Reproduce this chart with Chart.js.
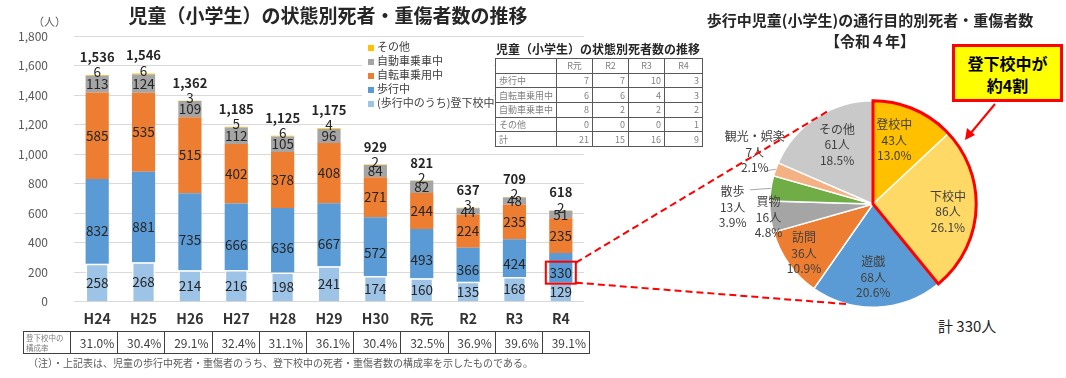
<!DOCTYPE html>
<html lang="ja">
<head>
<meta charset="UTF-8">
<meta name="viewport" content="width=device-width, initial-scale=1.0">
<title>児童（小学生）の状態別死者・重傷者数の推移</title>
<script src="https://cdn.jsdelivr.net/npm/chart.js"></script>
<style>
  body { margin: 0; background: #fff; font-family: 'Noto Sans CJK JP', sans-serif; color: #404040; }
  #page { position: relative; width: 1066px; height: 378px; overflow: hidden; }
  #page canvas, #page .abs { position: absolute; }
  #barChart { left: 0; top: 0; }
  #pieChart { left: 713px; top: 94px; }
  #overlay { left: 0; top: 0; pointer-events: none; z-index: 5; }
  .title { font-weight: bold; color: #262626; white-space: nowrap; }
  .num { font-family: 'Liberation Sans Narrow', 'Noto Sans CJK JP', sans-serif; }
  #mainTitle { left: 0; width: 656px; top: 2px; text-align: center; font-size: 19px; line-height: 26px; }
  #unit { left: 33px; top: 13px; font-size: 11px; color: #595959; }
  #legend { left: 362px; top: 39px; width: 132px; height: 72px; background: #fff; font-size: 11px; color: #404040; }
  #legend div { height: 14px; line-height: 14px; white-space: nowrap; }
  #legend span { display: inline-block; width: 6px; height: 6px; margin: 0 3px 1px 6px; vertical-align: middle; }
  #deathTitle { left: 493px; top: 40px; width: 210px; text-align: center; font-size: 12px; line-height: 18px; }
  #deathTable { left: 495px; top: 58px; border-collapse: collapse; background: #fff; font-size: 9px; color: #7f7f7f; table-layout: fixed; }
  #deathTable td { border: 1px solid #595959; padding: 0 3px; text-align: right; line-height: 1; overflow: hidden; white-space: nowrap; }
  #deathTable tr { height: 14.7px; }
  #deathTable tr:first-child td { text-align: center; }
  #deathTable td:first-child { text-align: left; }
  #rateTable { left: 23px; top: 331px; border-collapse: collapse; table-layout: fixed; }
  #rateTable td { border: 1.5px solid #404040; height: 21px; padding: 0 3px; text-align: right; font-size: 12px; color: #404040; }
  #rateTable td:first-child { text-align: left; font-size: 7.5px; line-height: 10px; color: #7f7f7f; padding: 0 2px; }
  #note { left: 28px; top: 355px; font-size: 10px; color: #595959; white-space: nowrap; }
  #pieTitle { left: 700px; width: 340px; top: 9px; text-align: center; font-size: 15px; line-height: 21px; }
  #callout { left: 952px; top: 44px; width: 111px; height: 58px; box-sizing: border-box; border: 3px solid #f00;
             background: #ff0; color: #000; font-weight: bold; font-size: 16px; line-height: 22px; padding-top: 5px; text-align: center; }
  #pieTotal { left: 938px; top: 315px; font-size: 15px; color: #262626; }
</style>
</head>
<body>
<div id="page">
  <canvas id="barChart" width="600" height="335"></canvas>
  <canvas id="pieChart" width="320" height="220"></canvas>
  <div id="mainTitle" class="abs title">児童（小学生）の状態別死者・重傷者数の推移</div>
  <div id="unit" class="abs">（人）</div>
  <div id="legend" class="abs"></div>
  <div id="deathTitle" class="abs title">児童（小学生）の状態別死者数の推移</div>
  <table id="deathTable" class="abs num"></table>
  <table id="rateTable" class="abs num"></table>
  <div id="note" class="abs">（注）・上記表は、児童の歩行中死者・重傷者のうち、登下校中の死者・重傷者数の構成率を示したものである。</div>
  <div id="pieTitle" class="abs title">歩行中児童(小学生)の通行目的別死者・重傷者数<br>【令和４年】</div>
  <div id="callout" class="abs">登下校中が<br>約4割</div>
  <div id="pieTotal" class="abs num"></div>
  <canvas id="overlay" width="1066" height="378"></canvas>
</div>

<script>
// 棒グラフのデータ
const years = ['H24', 'H25', 'H26', 'H27', 'H28', 'H29', 'H30', 'R元', 'R2', 'R3', 'R4'];
const walking = [832, 881, 735, 666, 636, 667, 572, 493, 366, 424, 330];
const schoolTrip = [258, 268, 214, 216, 198, 241, 174, 160, 135, 168, 129];
const bicycle = [585, 535, 515, 402, 378, 408, 271, 244, 224, 235, 235];
const carRide = [113, 124, 109, 112, 105, 96, 84, 82, 44, 48, 51];
const others = [6, 6, 3, 5, 6, 4, 2, 2, 3, 2, 2];
const totals = [1536, 1546, 1362, 1185, 1125, 1175, 929, 821, 637, 709, 618];
const shareRates = ['31.0%', '30.4%', '29.1%', '32.4%', '31.1%', '36.1%', '30.4%', '32.5%', '36.9%', '39.6%', '39.1%'];

// 死者数の表
const deathYears = ['R元', 'R2', 'R3', 'R4'];
const deathRowNames = ['歩行中', '自転車乗用中', '自動車乗車中', 'その他', '計'];
const deathWalk = [7, 7, 10, 3];
const deathBike = [6, 6, 4, 3];
const deathCar = [8, 2, 2, 2];
const deathOther = [0, 0, 0, 1];
const deathTotal = [21, 15, 16, 9];

// 円グラフ（令和4年）
const purposes = ['登校中', '下校中', '遊戯', '訪問', '買物', '散歩', '観光・娯楽', 'その他'];
const purposeCounts = [43, 86, 68, 36, 16, 13, 7, 61];

const numFont = "'Liberation Sans Narrow', 'Noto Sans CJK JP', sans-serif";
Chart.defaults.font.family = numFont;
Chart.defaults.color = '#595959';

const walkRest = walking.map((v, i) => v - schoolTrip[i]);

// 歩行中ラベルの位置
function walkLabelY(chart, bar) {
    const zero = chart.scales.y.getPixelForValue(0);
    return ((bar.y + bar.base) / 2 + (bar.y + zero) / 2) / 2;
}

const barLabels = {
    id: 'barLabels',
    afterDatasetsDraw(chart) {
        const ctx = chart.ctx;
        ctx.save();
        ctx.textAlign = 'center';
        ctx.textBaseline = 'middle';
        ctx.fillStyle = '#262626';
        ctx.font = '13.5px ' + numFont;
        chart.data.datasets.forEach((ds, di) => {
            chart.getDatasetMeta(di).data.forEach((bar, i) => {
                let y = (bar.y + bar.base) / 2;
                if (di === 1) y = walkLabelY(chart, bar);
                if (di === 4) y = bar.y - 3;
                ctx.fillText(ds.valueLabels[i], bar.x, y);
            });
        });
        ctx.font = 'bold 13px ' + numFont;
        chart.getDatasetMeta(4).data.forEach((bar, i) => {
            ctx.fillText(totals[i].toLocaleString('en-US'), bar.x, bar.y - 18);
        });
        // R4の歩行中を赤枠で囲む
        const hl = chart.getDatasetMeta(1).data[years.length - 1];
        const hy = walkLabelY(chart, hl);
        ctx.strokeStyle = '#FF0000';
        ctx.lineWidth = 2;
        ctx.strokeRect(hl.x - 15, hy - 11, 30, 22);
        ctx.restore();
    }
};

const barChart = new Chart(document.getElementById('barChart'), {
    type: 'bar',
    data: {
        labels: years,
        datasets: [
            { label: '(歩行中のうち)登下校中', data: schoolTrip, valueLabels: schoolTrip,
              backgroundColor: '#9DC3E6', borderColor: 'rgba(255,255,255,0.85)', borderWidth: 1.5 },
            { label: '歩行中', data: walkRest, valueLabels: walking, backgroundColor: '#5B9BD5' },
            { label: '自転車乗用中', data: bicycle, valueLabels: bicycle, backgroundColor: '#ED7D31' },
            { label: '自動車乗車中', data: carRide, valueLabels: carRide, backgroundColor: '#A5A5A5' },
            { label: 'その他', data: others, valueLabels: others, backgroundColor: '#FFC000' }
        ]
    },
    options: {
        responsive: false,
        animation: false,
        layout: { padding: { top: 36, right: 16, left: 0, bottom: 0 } },
        datasets: { bar: { barPercentage: 0.5, categoryPercentage: 1 } },
        plugins: { legend: { display: false }, tooltip: { enabled: false } },
        scales: {
            x: {
                stacked: true,
                grid: { display: false, drawTicks: false },
                border: { display: false },
                ticks: { font: { size: 14, weight: 'bold' }, color: '#333', padding: 8 },
                afterFit: s => { s.height = 30; }
            },
            y: {
                stacked: true,
                min: 0,
                max: 1800,
                ticks: { stepSize: 200, font: { size: 12 }, padding: 26, callback: v => v.toLocaleString('en-US') },
                grid: { color: '#D9D9D9', drawTicks: false },
                border: { display: false },
                afterFit: s => { s.width = 74; }
            }
        }
    },
    plugins: [barLabels]
});

// 凡例
const legendEl = document.getElementById('legend');
barChart.data.datasets.slice().reverse().forEach(ds => {
    const row = document.createElement('div');
    row.innerHTML = '<span style="background:' + ds.backgroundColor + '"></span>' + ds.label;
    legendEl.appendChild(row);
});

// 死者数の表
const deathTable = document.getElementById('deathTable');
const colW = [60, 36, 36, 36, 38];
let html = '<colgroup>' + colW.map(w => '<col style="width:' + w + 'px">').join('') + '</colgroup>';
html += '<tr><td></td>' + deathYears.map(y => '<td>' + y + '</td>').join('') + '</tr>';
[deathWalk, deathBike, deathCar, deathOther, deathTotal].forEach((row, r) => {
    html += '<tr><td>' + deathRowNames[r] + '</td>' + row.map(v => '<td>' + v + '</td>').join('') + '</tr>';
});
deathTable.innerHTML = html;

// 構成率の表
const rateTable = document.getElementById('rateTable');
let rh = '<colgroup><col style="width:47px">' + years.map(() => '<col style="width:47.2px">').join('') + '</colgroup>';
rh += '<tr><td>登下校中の<br>構成率</td>' + shareRates.map(v => '<td>' + v + '</td>').join('') + '</tr>';
rateTable.innerHTML = rh;

// 円グラフ
const purposeSum = purposeCounts.reduce((a, b) => a + b, 0);
document.getElementById('pieTotal').textContent = '計 ' + purposeSum + '人';
const labelRadius = [0.65, 0.73, 0.71, 0.82, 1.02, 1.36, 1.25, 0.67];
const labelShift = [-5, 2, 2, 0, 0, -10, 4, 2];
const leaderLen = [0, 0, 0, 0, 0, 21, 10, 0];

const pieDecor = {
    id: 'pieDecor',
    afterDatasetsDraw(chart) {
        const ctx = chart.ctx;
        const arcs = chart.getDatasetMeta(0).data;
        ctx.save();
        // 登下校中を赤で囲む
        const a0 = arcs[0], a1 = arcs[1];
        ctx.strokeStyle = '#FF0000';
        ctx.lineWidth = 3;
        ctx.beginPath();
        ctx.moveTo(a0.x, a0.y);
        ctx.arc(a0.x, a0.y, a0.outerRadius, a0.startAngle, a1.endAngle);
        ctx.closePath();
        ctx.stroke();

        ctx.textAlign = 'center';
        ctx.textBaseline = 'middle';
        ctx.fillStyle = '#404040';
        ctx.font = '12px ' + numFont;
        arcs.forEach((arc, i) => {
            const mid = (arc.startAngle + arc.endAngle) / 2;
            if (leaderLen[i]) {
                const ex = arc.x + Math.cos(mid) * arc.outerRadius;
                const ey = arc.y + Math.sin(mid) * arc.outerRadius;
                ctx.strokeStyle = '#A6A6A6';
                ctx.lineWidth = 1;
                ctx.beginPath();
                ctx.moveTo(ex, ey);
                ctx.lineTo(ex - leaderLen[i], ey + 1.5);
                ctx.stroke();
            }
            const ang = mid + labelShift[i] * Math.PI / 180;
            const r = arc.outerRadius * labelRadius[i];
            const x = arc.x + Math.cos(ang) * r;
            const y = arc.y + Math.sin(ang) * r;
            const pct = (purposeCounts[i] / purposeSum * 100).toFixed(1) + '%';
            [purposes[i], purposeCounts[i] + '人', pct].forEach((t, k) => {
                ctx.fillText(t, x, y + (k - 1) * 15.5);
            });
        });
        ctx.restore();
    }
};

const pieChart = new Chart(document.getElementById('pieChart'), {
    type: 'pie',
    data: {
        labels: purposes,
        datasets: [{
            data: purposeCounts,
            backgroundColor: ['#FFC000', '#FFD966', '#5B9BD5', '#ED7D31', '#A5A5A5', '#70AD47', '#F4B183', '#C9C9C9'],
            borderColor: '#ffffff',
            borderWidth: 1.5
        }]
    },
    options: {
        responsive: false,
        animation: false,
        layout: { padding: 6 },
        plugins: { legend: { display: false }, tooltip: { enabled: false } }
    },
    plugins: [pieDecor]
});

// 棒グラフから円グラフへの破線と吹き出しの矢印
const ov = document.getElementById('overlay').getContext('2d');
const hl = barChart.getDatasetMeta(1).data[years.length - 1];
const hy = walkLabelY(barChart, hl);
const pa = pieChart.getDatasetMeta(0).data[0];
const pcx = 713 + pa.x, pcy = 94 + pa.y, pr = pa.outerRadius;
function piePoint(deg) {
    const a = (deg - 90) * Math.PI / 180;
    return [pcx + Math.cos(a) * pr, pcy + Math.sin(a) * pr];
}
ov.strokeStyle = '#FF0000';
ov.lineWidth = 2;
ov.setLineDash([7, 4]);
const pTop = piePoint(334), pBot = piePoint(194);
ov.beginPath();
ov.moveTo(hl.x + 15, hy - 10);
ov.lineTo(pTop[0], pTop[1]);
ov.moveTo(hl.x + 15, hy + 10);
ov.lineTo(pBot[0], pBot[1]);
ov.stroke();

ov.setLineDash([]);
ov.lineWidth = 2;
ov.beginPath();
ov.moveTo(995, 104);
ov.lineTo(970, 134);
ov.stroke();
ov.fillStyle = '#FF0000';
ov.beginPath();
ov.moveTo(965, 140);
ov.lineTo(967, 128);
ov.lineTo(975, 135);
ov.closePath();
ov.fill();
</script>
</body>
</html>
